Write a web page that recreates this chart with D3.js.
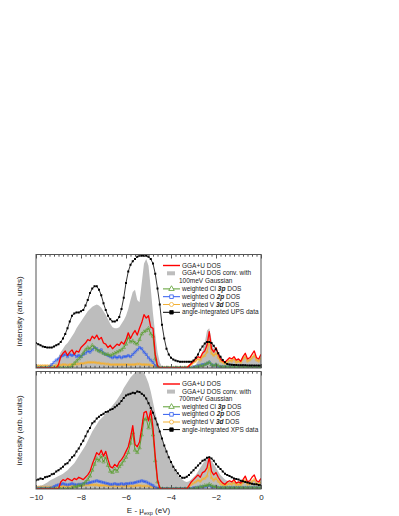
<!DOCTYPE html>
<html>
<head>
<meta charset="utf-8">
<script src="https://cdn.jsdelivr.net/npm/d3@7"></script>
<style>
  body { margin: 0; background: #fff; }
  svg { display: block; }
  text { font-family: "Liberation Sans", Arial, sans-serif; }
</style>
</head>
<body>
<div id="chart"></div>
<script>
// energy grid (eV, relative to chemical potential)
const energy = [
  -10, -9.9, -9.8, -9.7, -9.6, -9.5, -9.4, -9.3, -9.2, -9.1,
  -9, -8.9, -8.8, -8.7, -8.6, -8.5, -8.4, -8.3, -8.2, -8.1,
  -8, -7.9, -7.8, -7.7, -7.6, -7.5, -7.4, -7.3, -7.2, -7.1,
  -7, -6.9, -6.8, -6.7, -6.6, -6.5, -6.4, -6.3, -6.2, -6.1,
  -6, -5.9, -5.8, -5.7, -5.6, -5.5, -5.4, -5.3, -5.2, -5.1,
  -5, -4.9, -4.8, -4.7, -4.6, -4.5, -4.4, -4.3, -4.2, -4.1,
  -4, -3.9, -3.8, -3.7, -3.6, -3.5, -3.4, -3.3, -3.2, -3.1,
  -3, -2.9, -2.8, -2.7, -2.6, -2.5, -2.4, -2.3, -2.2, -2.1,
  -2, -1.9, -1.8, -1.7, -1.6, -1.5, -1.4, -1.3, -1.2, -1.1,
  -1, -0.9, -0.8, -0.7, -0.6, -0.5, -0.4, -0.3, -0.2, -0.1,
  0
];

// ---- upper panel (UPS) ----
const upsData = [
  0.22, 0.21, 0.20, 0.19, 0.185, 0.18, 0.18, 0.18, 0.19, 0.20,
  0.21, 0.23, 0.26, 0.30, 0.35, 0.41, 0.46, 0.48, 0.49, 0.49,
  0.50, 0.51, 0.55, 0.60, 0.66, 0.70, 0.72, 0.72, 0.69, 0.64,
  0.57, 0.51, 0.46, 0.43, 0.41, 0.41, 0.42, 0.45, 0.52, 0.62,
  0.75, 0.85, 0.91, 0.94, 0.96, 0.98, 0.99, 0.99, 0.99, 0.99,
  0.98, 0.96, 0.92, 0.83, 0.70, 0.56, 0.38, 0.26, 0.17, 0.12,
  0.09, 0.075, 0.065, 0.06, 0.055, 0.055, 0.055, 0.055, 0.055, 0.055,
  0.065, 0.09, 0.12, 0.16, 0.19, 0.215, 0.23, 0.23, 0.22, 0.195,
  0.165, 0.13, 0.10, 0.07, 0.05, 0.035, 0.03, 0.028, 0.027, 0.026,
  0.025, 0.025, 0.024, 0.024, 0.023, 0.023, 0.022, 0.022, 0.022, 0.021,
  0.021
];
const upsConv = [
  0, 0, 0, 0, 0, 0, 0, 0, 0.02, 0.06,
  0.10, 0.14, 0.17, 0.20, 0.22, 0.25, 0.28, 0.31, 0.35, 0.38,
  0.41, 0.44, 0.47, 0.50, 0.52, 0.54, 0.55, 0.56, 0.55, 0.53,
  0.50, 0.47, 0.43, 0.39, 0.36, 0.35, 0.35, 0.36, 0.39, 0.42,
  0.46, 0.52, 0.60, 0.67, 0.69, 0.60, 0.58, 0.75, 0.92, 0.96,
  0.90, 0.70, 0.48, 0.30, 0.14, 0.05, 0.01, 0, 0, 0,
  0, 0, 0, 0, 0, 0, 0, 0, 0, 0,
  0.01, 0.03, 0.06, 0.10, 0.15, 0.22, 0.33, 0.35, 0.25, 0.17,
  0.18, 0.14, 0.08, 0.05, 0.04, 0.05, 0.07, 0.07, 0.08, 0.07,
  0.07, 0.07, 0.09, 0.11, 0.08, 0.08, 0.10, 0.12, 0.09, 0.08,
  0.10
];
const upsTotal = [
  0, 0, 0, 0, 0, 0, 0, 0, 0, 0,
  0.03, 0.10, 0.13, 0.15, 0.11, 0.14, 0.16, 0.12, 0.15, 0.14,
  0.18, 0.20, 0.22, 0.25, 0.24, 0.28, 0.26, 0.29, 0.25, 0.27,
  0.22, 0.21, 0.18, 0.20, 0.17, 0.19, 0.21, 0.20, 0.23, 0.21,
  0.25, 0.31, 0.26, 0.30, 0.33, 0.29, 0.35, 0.40, 0.47, 0.44,
  0.46, 0.36, 0.35, 0.12, 0.02, 0, 0, 0, 0, 0,
  0, 0, 0, 0, 0, 0, 0, 0, 0.02, 0.04,
  0.06, 0.08, 0.10, 0.09, 0.13, 0.15, 0.20, 0.32, 0.17, 0.14,
  0.18, 0.12, 0.08, 0.06, 0.05, 0.07, 0.09, 0.08, 0.10, 0.07,
  0.08, 0.06, 0.10, 0.13, 0.08, 0.09, 0.12, 0.15, 0.09, 0.08,
  0.12
];
const upsCl = [
  0, 0, 0, 0, 0, 0, 0, 0, 0, 0,
  0, 0, 0, 0, 0, 0, 0.02, 0.04, 0.06, 0.08,
  0.10, 0.13, 0.16, 0.18, 0.17, 0.20, 0.18, 0.16, 0.15, 0.14,
  0.13, 0.12, 0.12, 0.11, 0.12, 0.13, 0.14, 0.15, 0.16, 0.18,
  0.21, 0.27, 0.23, 0.24, 0.22, 0.21, 0.25, 0.30, 0.32, 0.33,
  0.35, 0.30, 0.28, 0.08, 0.01, 0, 0, 0, 0, 0,
  0, 0, 0, 0, 0, 0, 0, 0, 0, 0,
  0, 0.01, 0.01, 0.02, 0.02, 0.03, 0.04, 0.05, 0.03, 0.02,
  0.03, 0.02, 0.01, 0.01, 0.01, 0.01, 0.01, 0.01, 0.01, 0.01,
  0.01, 0.01, 0.01, 0.01, 0.01, 0.01, 0.01, 0.01, 0.01, 0.01,
  0.01
];
const upsO = [
  0, 0, 0, 0, 0, 0, 0.01, 0.03, 0.05, 0.07,
  0.08, 0.10, 0.11, 0.12, 0.10, 0.12, 0.11, 0.12, 0.10, 0.11,
  0.10, 0.12, 0.13, 0.15, 0.14, 0.16, 0.18, 0.17, 0.15, 0.16,
  0.13, 0.12, 0.11, 0.10, 0.09, 0.10, 0.09, 0.10, 0.09, 0.10,
  0.10, 0.11, 0.10, 0.12, 0.14, 0.16, 0.18, 0.17, 0.14, 0.12,
  0.09, 0.07, 0.05, 0.02, 0.01, 0, 0, 0, 0, 0,
  0, 0, 0, 0, 0, 0, 0, 0, 0, 0,
  0.01, 0.01, 0.02, 0.02, 0.03, 0.03, 0.04, 0.05, 0.03, 0.02,
  0.03, 0.01, 0.01, 0.01, 0.01, 0.01, 0.01, 0.01, 0.01, 0.01,
  0.01, 0.01, 0.01, 0.01, 0.01, 0.01, 0.01, 0.01, 0.01, 0.01,
  0.01
];
const upsV = [
  0.02, 0.02, 0.02, 0.02, 0.02, 0.02, 0.02, 0.02, 0.02, 0.02,
  0.025, 0.025, 0.03, 0.03, 0.025, 0.03, 0.03, 0.03, 0.035, 0.035,
  0.04, 0.04, 0.045, 0.05, 0.05, 0.05, 0.05, 0.045, 0.045, 0.04,
  0.04, 0.035, 0.035, 0.03, 0.03, 0.03, 0.03, 0.03, 0.03, 0.03,
  0.03, 0.03, 0.03, 0.03, 0.03, 0.035, 0.035, 0.03, 0.03, 0.03,
  0.03, 0.025, 0.02, 0.015, 0.01, 0.005, 0.005, 0.005, 0.005, 0.005,
  0.005, 0.005, 0.005, 0.005, 0.005, 0.005, 0.005, 0.005, 0.015, 0.03,
  0.05, 0.06, 0.08, 0.07, 0.10, 0.11, 0.14, 0.24, 0.13, 0.11,
  0.13, 0.09, 0.06, 0.05, 0.04, 0.05, 0.07, 0.06, 0.08, 0.05,
  0.06, 0.05, 0.08, 0.10, 0.06, 0.07, 0.09, 0.11, 0.07, 0.06,
  0.09
];

// ---- lower panel (XPS) ----
const xpsData = [
  0.075, 0.08, 0.09, 0.085, 0.10, 0.105, 0.11, 0.125, 0.13, 0.15,
  0.16, 0.175, 0.19, 0.21, 0.22, 0.245, 0.27, 0.285, 0.32, 0.345,
  0.38, 0.41, 0.45, 0.49, 0.52, 0.56, 0.575, 0.60, 0.615, 0.63,
  0.64, 0.655, 0.66, 0.675, 0.68, 0.695, 0.71, 0.725, 0.75, 0.775,
  0.795, 0.805, 0.81, 0.82, 0.815, 0.83, 0.825, 0.81, 0.795, 0.77,
  0.73, 0.69, 0.65, 0.60, 0.55, 0.49, 0.43, 0.37, 0.32, 0.27,
  0.23, 0.19, 0.16, 0.135, 0.11, 0.095, 0.095, 0.105, 0.12, 0.14,
  0.16, 0.18, 0.20, 0.22, 0.24, 0.25, 0.265, 0.27, 0.26, 0.24,
  0.21, 0.19, 0.17, 0.15, 0.13, 0.12, 0.11, 0.10, 0.09, 0.085,
  0.08, 0.07, 0.065, 0.06, 0.055, 0.05, 0.045, 0.04, 0.04, 0.035,
  0.035
];
const xpsConv = [
  0.02, 0.025, 0.03, 0.035, 0.045, 0.055, 0.07, 0.08, 0.09, 0.10,
  0.11, 0.12, 0.13, 0.145, 0.16, 0.18, 0.20, 0.22, 0.25, 0.28,
  0.31, 0.34, 0.37, 0.41, 0.45, 0.49, 0.52, 0.55, 0.58, 0.60,
  0.62, 0.645, 0.665, 0.685, 0.71, 0.735, 0.76, 0.79, 0.82, 0.86,
  0.89, 0.92, 0.95, 0.97, 0.99, 1.0, 1.0, 1.0, 0.99, 0.95,
  0.90, 0.83, 0.74, 0.65, 0.57, 0.50, 0.43, 0.36, 0.31, 0.26,
  0.22, 0.18, 0.15, 0.12, 0.10, 0.08, 0.065, 0.06, 0.065, 0.08,
  0.10, 0.12, 0.15, 0.18, 0.21, 0.24, 0.26, 0.26, 0.24, 0.21,
  0.18, 0.15, 0.12, 0.10, 0.08, 0.07, 0.065, 0.06, 0.06, 0.06,
  0.06, 0.06, 0.065, 0.07, 0.07, 0.07, 0.07, 0.07, 0.07, 0.065,
  0.06
];
const xpsTotal = [
  0, 0, 0, 0, 0, 0, 0, 0, 0, 0,
  0, 0.06, 0.08, 0.07, 0.09, 0.08, 0.07, 0.09, 0.08, 0.10,
  0.09, 0.08, 0.10, 0.12, 0.15, 0.21, 0.26, 0.31, 0.29, 0.33,
  0.28, 0.32, 0.25, 0.19, 0.18, 0.21, 0.19, 0.23, 0.25, 0.28,
  0.32, 0.36, 0.44, 0.54, 0.38, 0.36, 0.40, 0.52, 0.65, 0.66,
  0.58, 0.67, 0.52, 0.28, 0.08, 0.01, 0, 0, 0, 0,
  0, 0, 0, 0, 0, 0, 0, 0, 0.03, 0.06,
  0.08, 0.10, 0.12, 0.10, 0.14, 0.15, 0.18, 0.27, 0.15, 0.12,
  0.14, 0.10, 0.07, 0.05, 0.04, 0.06, 0.07, 0.06, 0.08, 0.05,
  0.06, 0.05, 0.08, 0.11, 0.06, 0.07, 0.10, 0.12, 0.07, 0.06,
  0.09
];
const xpsCl = [
  0, 0, 0, 0, 0, 0, 0, 0, 0, 0,
  0, 0, 0, 0, 0, 0, 0.01, 0.02, 0.02, 0.03,
  0.03, 0.04, 0.06, 0.08, 0.11, 0.16, 0.21, 0.26, 0.24, 0.28,
  0.23, 0.27, 0.20, 0.15, 0.14, 0.17, 0.15, 0.19, 0.21, 0.24,
  0.27, 0.31, 0.39, 0.48, 0.33, 0.31, 0.35, 0.46, 0.59, 0.60,
  0.52, 0.60, 0.46, 0.24, 0.06, 0.01, 0, 0, 0, 0,
  0, 0, 0, 0, 0, 0, 0, 0, 0, 0,
  0, 0.01, 0.01, 0.02, 0.02, 0.03, 0.03, 0.04, 0.03, 0.02,
  0.02, 0.01, 0.01, 0.01, 0.01, 0.01, 0.01, 0.01, 0.01, 0.01,
  0.01, 0.01, 0.01, 0.01, 0.01, 0.01, 0.01, 0.01, 0.01, 0.01,
  0.01
];
const xpsO = [
  0.005, 0.005, 0.005, 0.005, 0.005, 0.005, 0.005, 0.01, 0.02, 0.03,
  0.035, 0.04, 0.045, 0.04, 0.035, 0.04, 0.045, 0.04, 0.035, 0.04,
  0.04, 0.045, 0.05, 0.05, 0.055, 0.06, 0.065, 0.07, 0.065, 0.06,
  0.055, 0.05, 0.045, 0.04, 0.04, 0.045, 0.04, 0.04, 0.045, 0.04,
  0.045, 0.045, 0.05, 0.05, 0.055, 0.06, 0.065, 0.07, 0.065, 0.06,
  0.05, 0.04, 0.03, 0.015, 0.005, 0.003, 0.003, 0.003, 0.003, 0.003,
  0.003, 0.003, 0.003, 0.003, 0.003, 0.003, 0.003, 0.003, 0.003, 0.003,
  0.01, 0.01, 0.015, 0.015, 0.02, 0.02, 0.025, 0.03, 0.02, 0.015,
  0.02, 0.01, 0.01, 0.01, 0.01, 0.01, 0.01, 0.01, 0.01, 0.01,
  0.01, 0.01, 0.01, 0.01, 0.01, 0.01, 0.01, 0.01, 0.01, 0.01,
  0.01
];
const xpsV = [
  0.015, 0.015, 0.015, 0.015, 0.015, 0.015, 0.015, 0.015, 0.015, 0.015,
  0.02, 0.02, 0.025, 0.025, 0.02, 0.025, 0.025, 0.025, 0.03, 0.03,
  0.03, 0.03, 0.035, 0.035, 0.035, 0.035, 0.035, 0.035, 0.03, 0.03,
  0.03, 0.03, 0.025, 0.025, 0.025, 0.025, 0.025, 0.025, 0.025, 0.025,
  0.025, 0.025, 0.025, 0.025, 0.025, 0.03, 0.03, 0.025, 0.025, 0.025,
  0.025, 0.02, 0.015, 0.01, 0.005, 0.003, 0.003, 0.003, 0.003, 0.003,
  0.003, 0.003, 0.003, 0.003, 0.003, 0.003, 0.003, 0.003, 0.02, 0.04,
  0.05, 0.06, 0.075, 0.065, 0.085, 0.09, 0.11, 0.19, 0.095, 0.075,
  0.09, 0.065, 0.045, 0.035, 0.03, 0.04, 0.045, 0.04, 0.055, 0.035,
  0.04, 0.035, 0.055, 0.075, 0.04, 0.045, 0.065, 0.08, 0.045, 0.04,
  0.06
];

// axis ticks and legend labels (|...| = italic orbital)
const majorTicks = [-10, -8, -6, -4, -2, 0];
const minorTicks = [
  -9.8, -9.6, -9.4, -9.2, -9, -8.8, -8.6, -8.4, -8.2,
  -7.8, -7.6, -7.4, -7.2, -7, -6.8, -6.6, -6.4, -6.2,
  -5.8, -5.6, -5.4, -5.2, -5, -4.8, -4.6, -4.4, -4.2,
  -3.8, -3.6, -3.4, -3.2, -3, -2.8, -2.6, -2.4, -2.2,
  -1.8, -1.6, -1.4, -1.2, -1, -0.8, -0.6, -0.4, -0.2
];
const upsLegend = ['GGA+U DOS', 'GGA+U DOS conv. with', '100meV Gaussian',
  'weighted Cl |3p| DOS', 'weighted O |2p| DOS', 'weighted V |3d| DOS', 'angle-integrated UPS data'];
const xpsLegend = ['GGA+U DOS', 'GGA+U DOS conv. with', '700meV Gaussian',
  'weighted Cl |3p| DOS', 'weighted O |2p| DOS', 'weighted V |3d| DOS', 'angle-integrated XPS data'];
const legendKinds = ['total', 'conv', null, 'cl', 'o', 'v', 'exp'];

const colors = { total: '#ff0000', conv: '#bdbdbd', cl: '#5c9f32', o: '#2f5cf0', v: '#f2b035', exp: '#000000' };

const svg = d3.select('#chart').append('svg').attr('width', 399).attr('height', 516);
const x = d3.scaleLinear().domain([-10, 0]).range([36, 261]);

const panels = [
  { id: 'ups', top: 254.5, bottom: 368, exp: upsData, conv: upsConv, total: upsTotal, cl: upsCl, o: upsO, v: upsV,
    labels: upsLegend, legendY: 265.5, legendStep: 7.8, showLabels: false },
  { id: 'xps', top: 371.5, bottom: 489, exp: xpsData, conv: xpsConv, total: xpsTotal, cl: xpsCl, o: xpsO, v: xpsV,
    labels: xpsLegend, legendY: 384, legendStep: 7.6, showLabels: true }
];

const symbolFor = {
  cl: d3.symbol().type(d3.symbolTriangle).size(5),
  o: d3.symbol().type(d3.symbolSquare).size(4.5),
  v: d3.symbol().type(d3.symbolCircle).size(4.5),
  exp: d3.symbol().type(d3.symbolSquare).size(4)
};

function drawSeries(g, y, values, kind, width) {
  const pts = d3.zip(energy, values);
  const line = d3.line().x(d => x(d[0])).y(d => y(d[1]));
  g.append('path')
    .attr('d', line(pts))
    .attr('fill', 'none')
    .attr('stroke', colors[kind])
    .attr('stroke-width', width)
    .attr('stroke-linejoin', 'round');
  if (symbolFor[kind]) {
    g.append('g').selectAll('path')
      .data(pts)
      .join('path')
      .attr('d', symbolFor[kind]())
      .attr('transform', d => 'translate(' + x(d[0]) + ',' + y(d[1]) + ')')
      .attr('fill', kind === 'exp' ? '#000' : 'none')
      .attr('stroke', colors[kind])
      .attr('stroke-width', kind === 'exp' ? 0 : 0.6);
  }
}

panels.forEach(p => {
  const y = d3.scaleLinear().domain([0, 1]).range([p.bottom, p.top]);

  svg.append('clipPath').attr('id', 'clip-' + p.id)
    .append('rect')
    .attr('x', x(-10)).attr('y', p.top)
    .attr('width', x(0) - x(-10)).attr('height', p.bottom - p.top);

  const g = svg.append('g').attr('clip-path', 'url(#clip-' + p.id + ')');

  // convolved DOS as grey area
  const area = d3.area().x(d => x(d[0])).y0(y(0)).y1(d => y(d[1]));
  g.append('path').attr('d', area(d3.zip(energy, p.conv))).attr('fill', colors.conv);

  drawSeries(g, y, p.v, 'v', 1.1);
  drawSeries(g, y, p.o, 'o', 1);
  drawSeries(g, y, p.cl, 'cl', 1);
  drawSeries(g, y, p.total, 'total', 1.3);
  drawSeries(g, y, p.exp, 'exp', 0.8);

  // frame
  svg.append('rect')
    .attr('x', x(-10)).attr('y', p.top)
    .attr('width', x(0) - x(-10)).attr('height', p.bottom - p.top)
    .attr('fill', 'none').attr('stroke', '#555').attr('stroke-width', 1);

  // inward ticks, top and bottom
  const addTicks = (axisFn, ypos, values, size, labels) => {
    const a = svg.append('g')
      .attr('transform', 'translate(0,' + ypos + ')')
      .call(axisFn(x).tickValues(values).tickSize(-size).tickPadding(5)
        .tickFormat(labels ? d3.format('d') : ''));
    a.select('.domain').remove();
    a.selectAll('line').attr('stroke', '#555');
    a.selectAll('text').attr('font-size', 8).attr('fill', '#222')
      .style('font-family', '"Liberation Sans", Arial, sans-serif');
  };
  addTicks(d3.axisBottom, p.bottom, minorTicks, 2.2, false);
  addTicks(d3.axisBottom, p.bottom, majorTicks, 4, p.showLabels);
  addTicks(d3.axisTop, p.top, minorTicks, 2.2, false);
  addTicks(d3.axisTop, p.top, majorTicks, 4, false);

  // y label
  svg.append('text')
    .attr('transform', 'translate(20,' + ((p.top + p.bottom) / 2) + ') rotate(-90)')
    .attr('text-anchor', 'middle')
    .attr('dominant-baseline', 'middle')
    .attr('font-size', 8)
    .attr('fill', '#222')
    .text('intensity (arb. units)');

  // legend
  const lg = svg.append('g');
  p.labels.forEach((label, i) => {
    const kind = legendKinds[i];
    const ly = p.legendY + i * p.legendStep;
    if (kind === 'conv') {
      lg.append('rect').attr('x', 167).attr('y', ly - 2).attr('width', 8).attr('height', 4)
        .attr('fill', colors.conv);
    } else if (kind) {
      lg.append('line').attr('x1', 163).attr('x2', 180).attr('y1', ly).attr('y2', ly)
        .attr('stroke', colors[kind]).attr('stroke-width', kind === 'total' ? 1.4 : 1);
      if (symbolFor[kind]) {
        lg.append('path')
          .attr('d', d3.symbol().type(kind === 'cl' ? d3.symbolTriangle : kind === 'v' ? d3.symbolCircle : d3.symbolSquare)
            .size(kind === 'exp' ? 12 : 13)())
          .attr('transform', 'translate(171.5,' + ly + ')')
          .attr('fill', kind === 'exp' ? '#000' : '#fff')
          .attr('stroke', colors[kind]).attr('stroke-width', 0.8);
      }
    }
    const t = lg.append('text')
      .attr('x', kind ? 182 : 179)
      .attr('y', ly)
      .attr('dominant-baseline', 'middle')
      .attr('font-size', 6.5)
      .attr('fill', '#222');
    label.split('|').forEach((part, k) => {
      const ts = t.append('tspan').text(part);
      if (k % 2 === 1) ts.attr('font-style', 'italic').attr('font-weight', 'bold');
    });
  });
});

// x axis label
const xl = svg.append('text')
  .attr('x', (x(-10) + x(0)) / 2)
  .attr('y', 513)
  .attr('text-anchor', 'middle')
  .attr('font-size', 8)
  .attr('fill', '#222');
xl.append('tspan').text('E - \u03bc');
xl.append('tspan').attr('font-size', 5.5).attr('dy', 2).text('exp');
xl.append('tspan').attr('dy', -2).text(' (eV)');
</script>
</body>
</html>
